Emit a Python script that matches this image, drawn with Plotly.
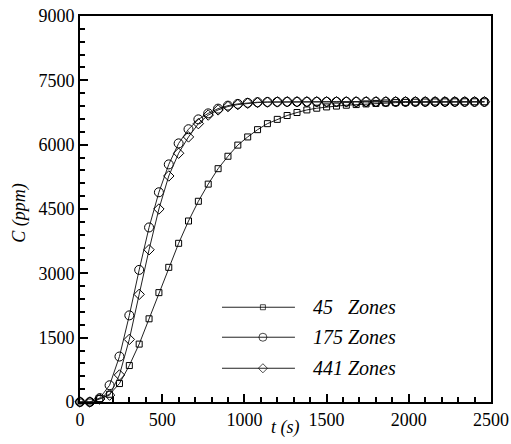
import plotly.graph_objects as go

t = [i * 60 for i in range(42)]

c45 = [0, 0, 80, 180, 430, 850, 1350, 1940, 2550, 3140, 3700, 4220, 4680, 5080,
       5440, 5730, 5990, 6180, 6350, 6490, 6590, 6680, 6750, 6810, 6850, 6880,
       6900, 6920, 6935, 6950, 6962, 6972, 6980, 6986, 6990, 6994, 6996, 6998,
       6999, 7000, 7000, 7000]
c175 = [0, 0, 90, 390, 1060, 2020, 3080, 4070, 4890, 5540, 6030, 6360, 6590,
        6730, 6840, 6910, 6950, 6975, 6990, 6995, 6998] + [7000] * 21
c441 = [0, 0, 70, 160, 630, 1460, 2510, 3550, 4500, 5270, 5800, 6180, 6490,
        6690, 6810, 6890, 6935, 6965, 6982, 6992, 6996] + [7000] * 21

names = ["45\u00a0\u00a0\u00a0Zones", "175 Zones", "441 Zones"]
symbols = ["square-open", "circle-open", "diamond-open"]
sizes = [6, 9, 8]
leg_sizes = [5, 8, 7]
series = [c45, c175, c441]

x_ticks = [0, 500, 1000, 1500, 2000, 2500]
y_ticks = [0, 1500, 3000, 4500, 6000, 7500, 9000]

font_family = "Liberation Serif"

fig = go.Figure()
for ys, sym, sz in zip(series, symbols, sizes):
    fig.add_trace(go.Scatter(
        x=t, y=ys, mode="lines+markers",
        line=dict(color="#222222", width=1),
        marker=dict(symbol=sym, size=sz, color="black", line=dict(width=1, color="black")),
        showlegend=False, cliponaxis=False,
    ))

leg_y = [0.2455, 0.1678, 0.0874]
for ly, sym, sz, nm in zip(leg_y, symbols, leg_sizes, names):
    fig.add_trace(go.Scatter(
        x=[0.3455, 0.445, 0.523], y=[ly, ly, ly], mode="lines+markers",
        line=dict(color="#222222", width=1),
        marker=dict(symbol=sym, size=[0, sz, 0], color="black", line=dict(width=1, color="black")),
        xaxis="x2", yaxis="y2", showlegend=False, hoverinfo="skip",
    ))
    fig.add_annotation(
        x=0.562, y=ly, xref="paper", yref="paper", text="<i>" + nm + "</i>",
        showarrow=False, xanchor="left", yanchor="middle",
        font=dict(family=font_family, size=20, color="black"),
    )

fig.add_annotation(x=0.5, y=-0.067, xref="paper", yref="paper", text="<i>t (s)</i>",
                   showarrow=False, xanchor="center", yanchor="middle",
                   font=dict(family=font_family, size=18, color="black"))
fig.add_annotation(x=-60 / 411, y=0.49, xref="paper", yref="paper", text="<i>C (ppm)</i>",
                   showarrow=False, textangle=-90, xanchor="center", yanchor="middle",
                   font=dict(family=font_family, size=18, color="black"))

axis_common = dict(
    showline=True, linewidth=2, linecolor="black", mirror=True,
    ticks="inside", ticklen=8, tickwidth=2, tickcolor="black",
    showgrid=False, zeroline=False, automargin=False,
    tickfont=dict(family=font_family, size=18, color="black"),
)

fig.update_layout(
    width=511, height=444,
    margin=dict(l=80, r=20, t=16, b=42),
    paper_bgcolor="white", plot_bgcolor="white",
    showlegend=False,
    font=dict(family=font_family, color="black"),
    xaxis=dict(range=[0, 2500], tickvals=x_ticks,
               minor=dict(ticks="inside", ticklen=5, tickwidth=1.5, dtick=100, tickcolor="black"),
               **axis_common),
    yaxis=dict(range=[0, 9000], tickvals=y_ticks,
               minor=dict(ticks="inside", ticklen=5, tickwidth=1.5, dtick=300, tickcolor="black"),
               **axis_common),
    xaxis2=dict(overlaying="x", range=[0, 1], visible=False, fixedrange=True),
    yaxis2=dict(overlaying="y", range=[0, 1], visible=False, fixedrange=True),
)

fig.write_html("out.html")
